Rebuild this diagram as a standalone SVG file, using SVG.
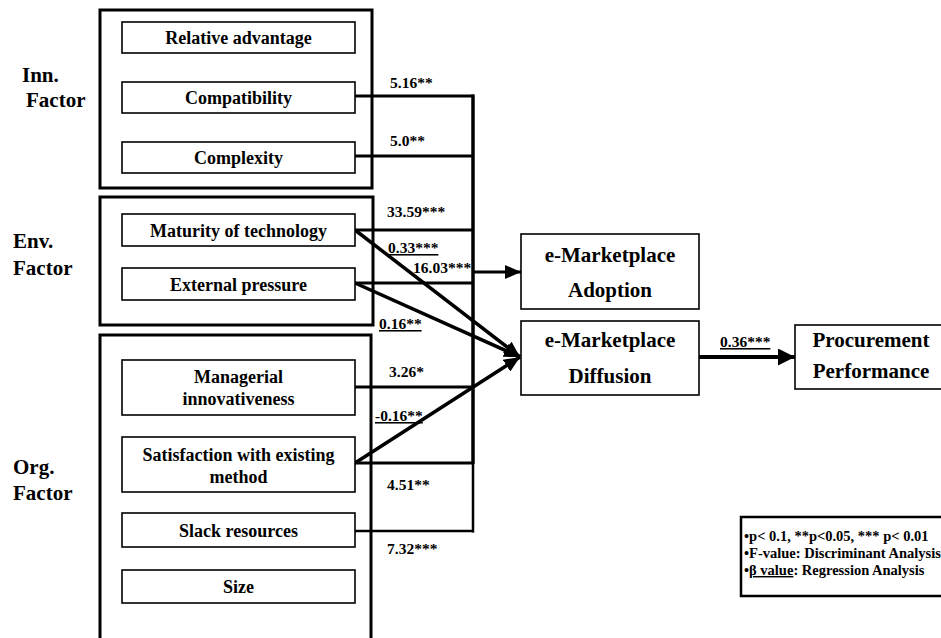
<svg xmlns="http://www.w3.org/2000/svg" width="941" height="638" viewBox="0 0 941 638">
<style>
  text { font-family: "Liberation Serif", "Times New Roman", serif; font-weight: bold; fill: #000; }
  .grp { fill: none; stroke: #000; stroke-width: 3; }
  .box { fill: #fff; stroke: #000; stroke-width: 1.6; }
  .lbl { font-size: 18px; text-anchor: middle; }
  .big { font-size: 21px; text-anchor: middle; }
  .fac { font-size: 21px; }
  .num { font-size: 15.5px; }
  .leg { font-size: 14.5px; }
  .u { text-decoration: underline; }
  .ln { fill: none; stroke: #000; stroke-width: 3; }
</style>
<defs>
  <marker id="ah" markerUnits="userSpaceOnUse" viewBox="0 0 16 14" refX="16" refY="7" markerWidth="16" markerHeight="14" orient="auto">
    <path d="M0,0 L16,7 L0,14 Z" fill="#000"/>
  </marker>
  <marker id="ah2" markerUnits="userSpaceOnUse" viewBox="0 0 17 17" refX="17" refY="8.5" markerWidth="17" markerHeight="17" orient="auto">
    <path d="M0,0 L17,8.5 L0,17 Z" fill="#000"/>
  </marker>
</defs>

<g id="factor-labels">
  <text class="fac" x="22" y="82">Inn.</text>
  <text class="fac" x="26" y="107">Factor</text>
  <text class="fac" x="13" y="248">Env.</text>
  <text class="fac" x="13" y="275">Factor</text>
  <text class="fac" x="13" y="474">Org.</text>
  <text class="fac" x="13" y="500">Factor</text>
</g>

<g id="inn-factor">
  <rect class="grp" x="100" y="10" width="272" height="178"/>
</g>
<g id="env-factor">
  <rect class="grp" x="100" y="197" width="273" height="128"/>
</g>
<g id="org-factor">
  <rect class="grp" x="100" y="335" width="271" height="315"/>
</g>

<g id="connectors">
  <line class="ln" x1="355" y1="96" x2="474" y2="96"/>
  <line class="ln" x1="355" y1="156" x2="474" y2="156"/>
  <line class="ln" x1="355" y1="230" x2="474" y2="230"/>
  <line class="ln" x1="355" y1="283" x2="474" y2="283"/>
  <line class="ln" x1="355" y1="387" x2="474" y2="387"/>
  <line class="ln" x1="355" y1="463" x2="474" y2="463"/>
  <line class="ln" x1="355" y1="531" x2="474" y2="531" style="stroke-width:2.5"/>
  <line class="ln" x1="473" y1="94.5" x2="473" y2="464" style="stroke-width:3.5"/>
  <line class="ln" x1="473" y1="463" x2="473" y2="532.5" style="stroke-width:2.5"/>
  <line class="ln" x1="473" y1="272" x2="521" y2="272" marker-end="url(#ah)"/>
  <line class="ln" x1="355" y1="230" x2="520" y2="357" style="stroke-width:3.5" marker-end="url(#ah)"/>
  <line class="ln" x1="355" y1="283" x2="520" y2="357" style="stroke-width:3.5" marker-end="url(#ah)"/>
  <line class="ln" x1="355" y1="463" x2="520" y2="357" style="stroke-width:3.5" marker-end="url(#ah)"/>
  <line class="ln" x1="699" y1="357" x2="795" y2="357" style="stroke-width:4" marker-end="url(#ah2)"/>
</g>

<g id="relative-advantage">
  <rect class="box" x="122" y="22" width="233" height="31"/>
  <text class="lbl" x="238.5" y="44">Relative advantage</text>
</g>
<g id="compatibility">
  <rect class="box" x="122" y="82" width="233" height="31"/>
  <text class="lbl" x="238.5" y="104">Compatibility</text>
</g>
<g id="complexity">
  <rect class="box" x="122" y="142" width="233" height="31"/>
  <text class="lbl" x="238.5" y="164">Complexity</text>
</g>
<g id="maturity-of-technology">
  <rect class="box" x="122" y="214" width="233" height="32"/>
  <text class="lbl" x="238.5" y="236.5">Maturity of technology</text>
</g>
<g id="external-pressure">
  <rect class="box" x="122" y="268" width="233" height="32"/>
  <text class="lbl" x="238.5" y="290.5">External pressure</text>
</g>
<g id="managerial-innovativeness">
  <rect class="box" x="122" y="360" width="233" height="55"/>
  <text class="lbl" x="238.5" y="383">Managerial</text>
  <text class="lbl" x="238.5" y="405">innovativeness</text>
</g>
<g id="satisfaction-with-existing-method">
  <rect class="box" x="122" y="437" width="233" height="55"/>
  <text class="lbl" x="238.5" y="460.5">Satisfaction with existing</text>
  <text class="lbl" x="238.5" y="482.5">method</text>
</g>
<g id="slack-resources">
  <rect class="box" x="122" y="513" width="233" height="34"/>
  <text class="lbl" x="238.5" y="537">Slack resources</text>
</g>
<g id="size">
  <rect class="box" x="122" y="570" width="233" height="33"/>
  <text class="lbl" x="238.5" y="593">Size</text>
</g>

<g id="e-marketplace-adoption">
  <rect class="box" x="521" y="234" width="178" height="75"/>
  <text class="big" x="610" y="262">e-Marketplace</text>
  <text class="big" x="610" y="297">Adoption</text>
</g>
<g id="e-marketplace-diffusion">
  <rect class="box" x="521" y="321" width="178" height="74"/>
  <text class="big" x="610" y="347">e-Marketplace</text>
  <text class="big" x="610" y="383">Diffusion</text>
</g>
<g id="procurement-performance">
  <rect class="box" x="795" y="325" width="160" height="64"/>
  <text class="big" x="871" y="347">Procurement</text>
  <text class="big" x="871" y="378">Performance</text>
</g>

<g id="path-labels">
  <text class="num" x="390" y="88">5.16**</text>
  <text class="num" x="390" y="146">5.0**</text>
  <text class="num" x="387" y="217">33.59***</text>
  <text class="num u" x="388" y="253">0.33***</text>
  <text class="num" x="413" y="273">16.03***</text>
  <text class="num u" x="379" y="329">0.16**</text>
  <text class="num" x="389" y="377">3.26*</text>
  <text class="num u" x="375" y="421">-0.16**</text>
  <text class="num" x="387" y="490">4.51**</text>
  <text class="num" x="387" y="554">7.32***</text>
  <text class="num u" x="720" y="347">0.36***</text>
</g>

<g id="legend">
  <rect x="741" y="517" width="210" height="79" fill="#fff" stroke="#000" stroke-width="2.5"/>
  <text class="leg" x="744" y="541">•p&lt; 0.1, **p&lt;0.05, *** p&lt; 0.01</text>
  <text class="leg" x="744" y="558">•F-value: Discriminant Analysis</text>
  <text class="leg" x="744" y="575">•<tspan class="u">β value</tspan>: Regression Analysis</text>
</g>
</svg>
